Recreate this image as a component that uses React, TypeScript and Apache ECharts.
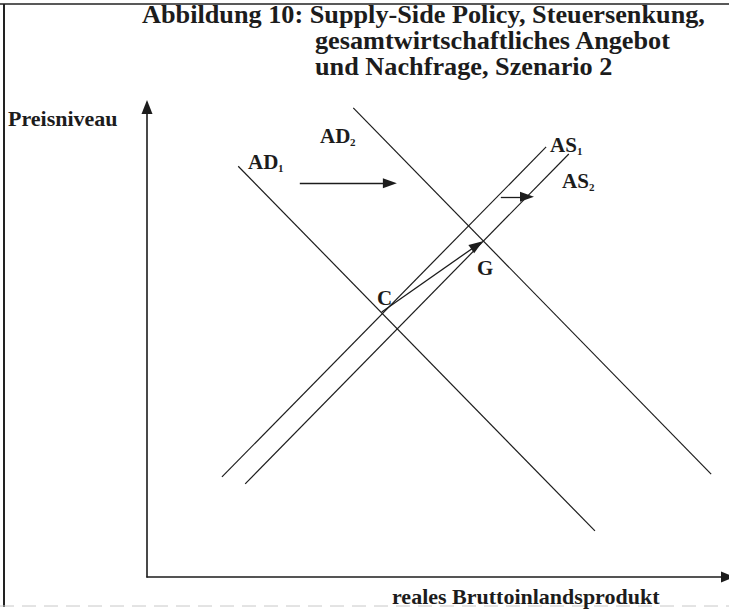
import React, { useEffect, useRef } from "react";
import * as echarts from "echarts";

// Title lines
const titleLines = [
  "Abbildung 10: Supply-Side Policy, Steuersenkung,",
  "gesamtwirtschaftliches Angebot",
  "und Nachfrage, Szenario 2",
];
const yAxisTitle = "Preisniveau";
const xAxisTitle = "reales Bruttoinlandsprodukt";

// Curves (plot units 0..100)
const ad1X = [15.7, 77.1];
const ad1Y = [87.4, 9.8];
const ad2X = [35.5, 97.1];
const ad2Y = [99.8, 21.9];
const as1X = [12.9, 68.7];
const as1Y = [21.3, 91.5];
const as2X = [16.9, 72.6];
const as2Y = [19.8, 90.0];

// Shift arrows [x1, y1, x2, y2]
const adShiftArrow = [26.3, 83.8, 41.8, 83.8];
const asShiftArrow = [60.9, 80.9, 65.4, 80.9];
const cToGArrow = [40.4, 56.4, 56.8, 70.6];

const FONT = "'Liberation Serif', 'Times New Roman', serif";
const INK = "#1c1c1c";

function pts(xs: number[], ys: number[]) {
  return xs.map((x, i) => [x, ys[i]]);
}
function arrow(a: number[]) {
  return [{ coord: [a[0], a[1]] }, { coord: [a[2], a[3]] }];
}

const textBase = {
  fill: INK,
  fontFamily: FONT,
  fontWeight: "bold",
  textAlign: "left",
  textVerticalAlign: "middle",
  align: "left",
  verticalAlign: "middle",
};

function label(main: string, sub: string, x: number, y: number, size = 21) {
  const els: any[] = [
    { type: "text", x, y, z: 10, style: { ...textBase, text: main, fontSize: size } },
  ];
  if (sub) {
    const w = main === "AD" ? 30 : 27;
    els.push({
      type: "text",
      x: x + w,
      y: y + 6,
      z: 10,
      style: { ...textBase, text: sub, fontSize: 11 },
    });
  }
  return els;
}

export default function App() {
  const ref = useRef<HTMLDivElement>(null);
  useEffect(() => {
    if (!ref.current) return;
    const chart = echarts.init(ref.current, undefined, { renderer: "svg" });
    const curveStyle = { color: INK, width: 1.2 };
    const axisCommon = {
      type: "value",
      min: 0,
      max: 100,
      axisLine: {
        show: true,
        symbol: ["none", "triangle"],
        symbolSize: [11, 14],
        lineStyle: { color: INK, width: 1.6 },
      },
      axisTick: { show: false },
      axisLabel: { show: false },
      splitLine: { show: false },
    };
    chart.setOption({
      animation: false,
      backgroundColor: "#ffffff",
      grid: { left: 147, right: 1, top: 107, bottom: 32 },
      xAxis: axisCommon,
      yAxis: axisCommon,
      series: [
        { type: "line", name: "AD1", data: pts(ad1X, ad1Y), symbol: "none", lineStyle: curveStyle, silent: true },
        { type: "line", name: "AD2", data: pts(ad2X, ad2Y), symbol: "none", lineStyle: curveStyle, silent: true },
        { type: "line", name: "AS1", data: pts(as1X, as1Y), symbol: "none", lineStyle: curveStyle, silent: true },
        { type: "line", name: "AS2", data: pts(as2X, as2Y), symbol: "none", lineStyle: curveStyle, silent: true },
        {
          type: "line",
          name: "arrows",
          data: [],
          symbol: "none",
          markLine: {
            silent: true,
            symbol: ["none", "triangle"],
            symbolSize: [10, 14],
            label: { show: false },
            lineStyle: { color: INK, width: 1.3, type: "solid" },
            data: [arrow(adShiftArrow), arrow(asShiftArrow), arrow(cToGArrow)],
          },
        },
      ],
      graphic: [
        { type: "line", shape: { x1: 0, y1: 4, x2: 729, y2: 4 }, style: { stroke: "#222", lineWidth: 1.5 } },
        { type: "line", shape: { x1: 4, y1: 4, x2: 4, y2: 607 }, style: { stroke: "#222", lineWidth: 2 } },
        { type: "line", shape: { x1: 0, y1: 606, x2: 729, y2: 606 }, style: { stroke: "#c8c8c8", lineWidth: 1, lineDash: [14, 8] } },
        { type: "text", x: 142, y: 15, scaleX: 1.05, z: 10, style: { ...textBase, text: titleLines[0], fontSize: 25 } },
        { type: "text", x: 315, y: 41, scaleX: 1.05, z: 10, style: { ...textBase, text: titleLines[1], fontSize: 25 } },
        { type: "text", x: 315, y: 67, scaleX: 1.05, z: 10, style: { ...textBase, text: titleLines[2], fontSize: 25 } },
        { type: "text", x: 8, y: 118, z: 10, style: { ...textBase, text: yAxisTitle, fontSize: 22 } },
        { type: "text", x: 392, y: 596, z: 10, style: { ...textBase, text: xAxisTitle, fontSize: 22 } },
        ...label("AD", "1", 248, 162),
        ...label("AD", "2", 320, 136),
        ...label("AS", "1", 550, 145),
        ...label("AS", "2", 562, 181),
        ...label("C", "", 377, 298),
        ...label("G", "", 477, 268),
      ],
    });
    return () => chart.dispose();
  }, []);
  return (
    <div
      ref={ref}
      style={{ position: "absolute", left: 0, top: 0, width: 729, height: 609 }}
    />
  );
}
